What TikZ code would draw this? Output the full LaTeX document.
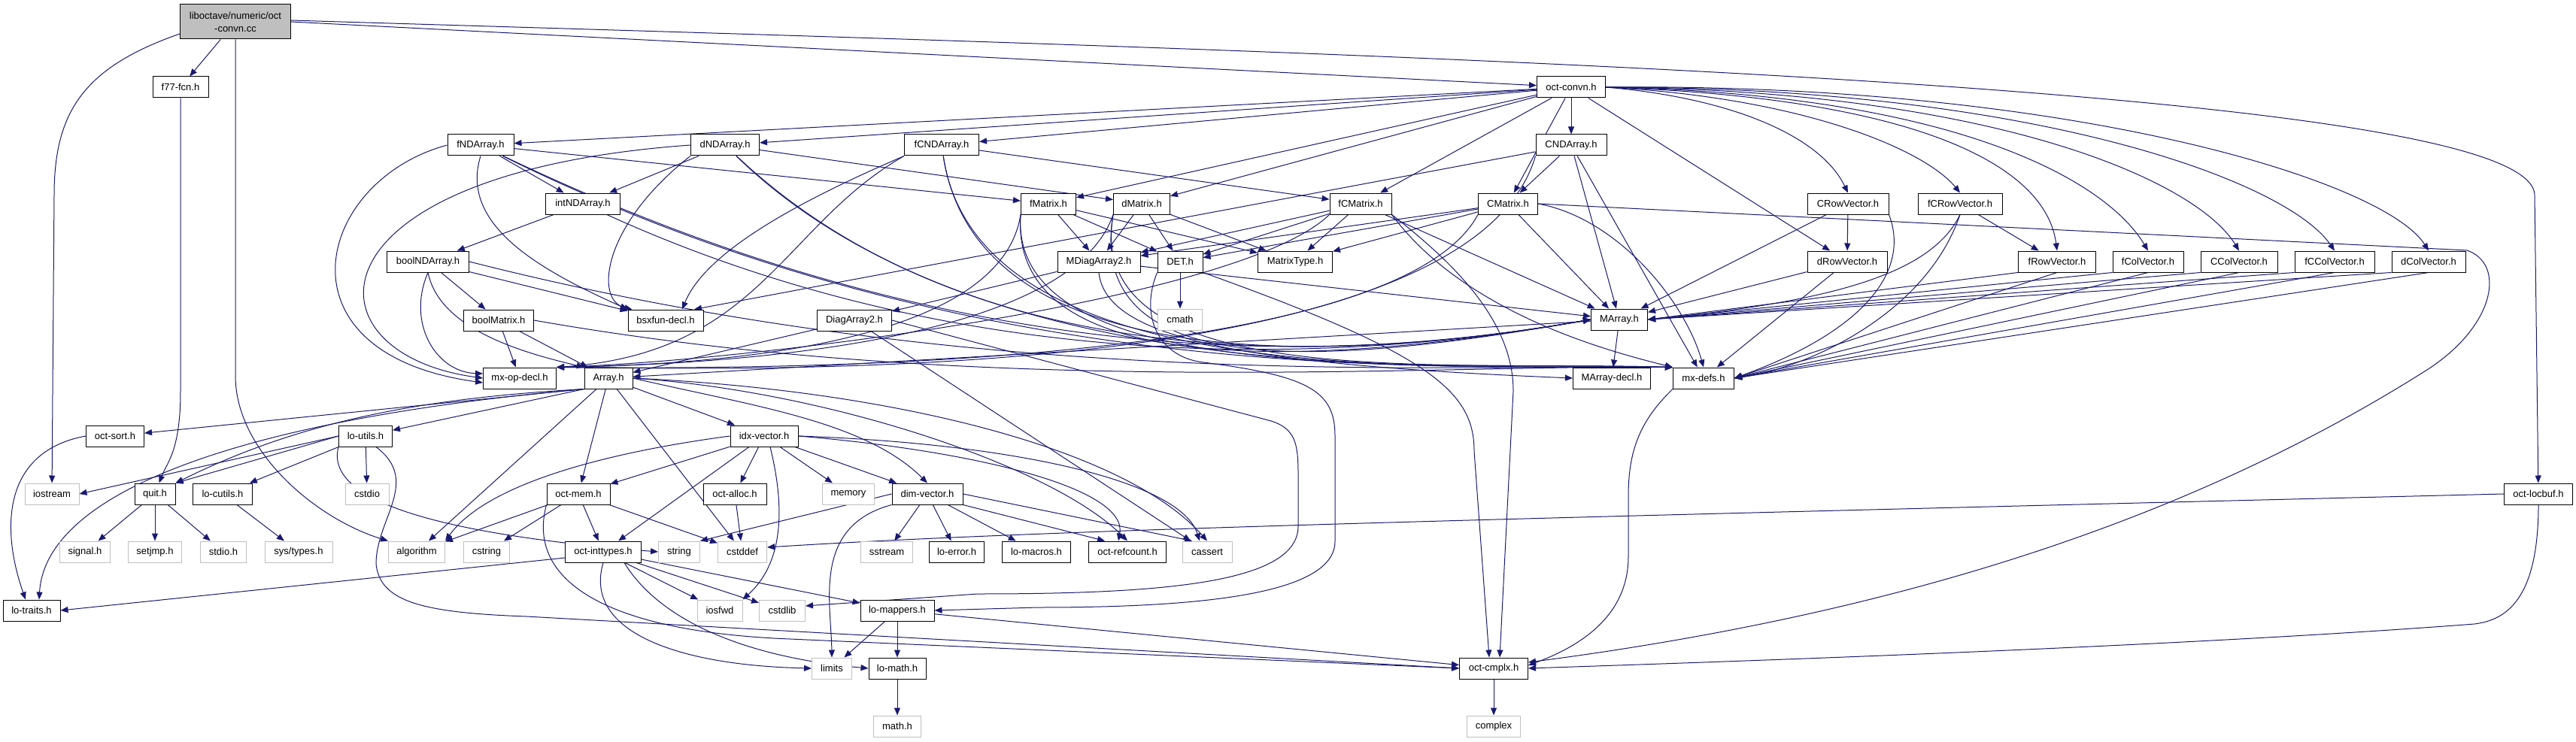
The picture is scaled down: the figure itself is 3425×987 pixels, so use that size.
\documentclass[tikz,border=0pt]{standalone}
\usepackage{fontspec}
\setmainfont{Liberation Sans}
\usetikzlibrary{arrows.meta}
\definecolor{edgec}{HTML}{191970}
\definecolor{sysc}{HTML}{BFBFBF}
\pgfdeclarelayer{bg}
\pgfsetlayers{bg,main}
\tikzset{
  hdr/.style={draw=black, fill=white, line width=1pt, minimum height=28pt, inner xsep=3pt, inner ysep=0pt, font=\fontsize{13pt}{16pt}\selectfont},
  sys/.style={hdr, draw=sysc},
  dep/.style={draw=edgec, line width=1pt, -{Triangle[length=10pt,width=8pt]}},
}
\begin{document}
\begin{tikzpicture}[x=1pt,y=-1pt]
\useasboundingbox (0,0) rectangle (3425,987);
% ---------- nodes ----------
\node[hdr, fill=sysc, minimum width=147pt, minimum height=46pt, align=center, font=\fontsize{13pt}{17pt}\selectfont] (root) at (313,29) {liboctave/numeric/oct\\-convn.cc};
\node[hdr, minimum width=74pt] (f77) at (240,116) {f77-fcn.h};
\node[hdr, minimum width=91pt] (convn) at (2089,116) {oct-convn.h};
\node[hdr, minimum width=88pt] (fND) at (639,193) {fNDArray.h};
\node[hdr, minimum width=91pt] (dND) at (964,193) {dNDArray.h};
\node[hdr, minimum width=99pt] (fCND) at (1252,193) {fCNDArray.h};
\node[hdr, minimum width=94pt] (CND) at (2089,193) {CNDArray.h};
\node[hdr, minimum width=99pt] (intND) at (775,271) {intNDArray.h};
\node[hdr, minimum width=73pt] (fMat) at (1394,271) {fMatrix.h};
\node[hdr, minimum width=75pt] (dMat) at (1518,271) {dMatrix.h};
\node[hdr, minimum width=82pt] (fCMat) at (1809,271) {fCMatrix.h};
\node[hdr, minimum width=79pt] (CMat) at (2005,271) {CMatrix.h};
\node[hdr, minimum width=108pt] (CRV) at (2457,271) {CRowVector.h};
\node[hdr, minimum width=112pt] (fCRV) at (2606,271) {fCRowVector.h};
\node[hdr, minimum width=109pt] (boolND) at (569,348) {boolNDArray.h};
\node[hdr, minimum width=110pt] (MDiag) at (1461,348) {MDiagArray2.h};
\node[hdr, minimum width=60pt] (DET) at (1569,348) {DET.h};
\node[hdr, minimum width=99pt] (MType) at (1722,348) {MatrixType.h};
\node[hdr, minimum width=106pt] (dRV) at (2456,348) {dRowVector.h};
\node[hdr, minimum width=103pt] (fRV) at (2735,348) {fRowVector.h};
\node[hdr, minimum width=94pt] (fCV) at (2856,348) {fColVector.h};
\node[hdr, minimum width=102pt] (CCV) at (2977,348) {CColVector.h};
\node[hdr, minimum width=106pt] (fCCV) at (3104,348) {fCColVector.h};
\node[hdr, minimum width=98pt] (dCV) at (3229,348) {dColVector.h};
\node[hdr, minimum width=93pt] (boolMat) at (663,426) {boolMatrix.h};
\node[hdr, minimum width=100pt] (bsx) at (885,426) {bsxfun-decl.h};
\node[hdr, minimum width=99pt] (Diag) at (1136,426) {DiagArray2.h};
\node[sys, minimum width=59pt] (cmath) at (1569,425) {cmath};
\node[hdr, minimum width=75pt] (MArr) at (2153,425) {MArray.h};
\node[hdr, minimum width=97pt] (mxop) at (691,503) {mx-op-decl.h};
\node[hdr, minimum width=64pt] (Arr) at (809,503) {Array.h};
\node[hdr, minimum width=103pt] (MArrdecl) at (2143,503) {MArray-decl.h};
\node[hdr, minimum width=81pt] (mxdefs) at (2265,503) {mx-defs.h};
\node[hdr, minimum width=77pt] (osort) at (153,580) {oct-sort.h};
\node[hdr, minimum width=71pt] (loutils) at (486,580) {lo-utils.h};
\node[hdr, minimum width=90pt] (idx) at (1016,580) {idx-vector.h};
\node[sys, minimum width=72pt] (iostream) at (69,657) {iostream};
\node[hdr, minimum width=54pt] (quit) at (206,657) {quit.h};
\node[hdr, minimum width=79pt] (locutils) at (296,657) {lo-cutils.h};
\node[sys, minimum width=58pt] (cstdio) at (488,657) {cstdio};
\node[hdr, minimum width=84pt] (omem) at (769,657) {oct-mem.h};
\node[hdr, minimum width=84pt] (oalloc) at (977,657) {oct-alloc.h};
\node[sys, minimum width=69pt] (memory) at (1128,657) {memory};
\node[hdr, minimum width=94pt] (dimv) at (1233,657) {dim-vector.h};
\node[hdr, minimum width=91pt] (locbuf) at (3375,657) {oct-locbuf.h};
\node[sys, minimum width=67pt] (signal) at (113,734) {signal.h};
\node[sys, minimum width=71pt] (setjmp) at (206,734) {setjmp.h};
\node[sys, minimum width=61pt] (stdioh) at (297,734) {stdio.h};
\node[sys, minimum width=90pt] (systypes) at (397,734) {sys/types.h};
\node[sys, minimum width=75pt] (algorithm) at (554,734) {algorithm};
\node[sys, minimum width=61pt] (cstring) at (647,734) {cstring};
\node[hdr, minimum width=101pt] (ointt) at (802,734) {oct-inttypes.h};
\node[sys, minimum width=55pt] (string) at (903,734) {string};
\node[sys, minimum width=65pt] (cstddef) at (987,734) {cstddef};
\node[sys, minimum width=69pt] (sstream) at (1179,734) {sstream};
\node[hdr, minimum width=73pt] (loerror) at (1272,734) {lo-error.h};
\node[hdr, minimum width=91pt] (lomacros) at (1378,734) {lo-macros.h};
\node[hdr, minimum width=103pt] (orefc) at (1499,734) {oct-refcount.h};
\node[sys, minimum width=66pt] (cassert) at (1605,734) {cassert};
\node[hdr, minimum width=76pt] (lotraits) at (42,812) {lo-traits.h};
\node[sys, minimum width=60pt] (iosfwd) at (957,812) {iosfwd};
\node[sys, minimum width=61pt] (cstdlib) at (1040,812) {cstdlib};
\node[hdr, minimum width=98pt] (lomap) at (1193,812) {lo-mappers.h};
\node[sys, minimum width=53pt] (limits) at (1106,889) {limits};
\node[hdr, minimum width=76pt] (lomath) at (1193,889) {lo-math.h};
\node[hdr, minimum width=91pt] (ocmplx) at (1986,889) {oct-cmplx.h};
\node[sys, minimum width=63pt] (mathh) at (1193,966) {math.h};
\node[sys, minimum width=71pt] (complex) at (1986,966) {complex};
% ---------- edges ----------
\begin{pgfonlayer}{bg}
% root
\draw[dep] ([yshift=-16pt]root.west) .. controls (110,90) and (72,150) .. (72,260) -- (iostream);
\draw[dep] (root) -- (f77);
\draw[dep] (root.south) -- (313,500) .. controls (313,600) and (420,690) .. (algorithm.north west);
\draw[dep] (root.east) -- (convn);
\draw[dep] ([yshift=2pt]root.east) .. controls (1800,70) and (3370,110) .. (3370,260) -- (locbuf);
\draw[dep] (f77) -- (240,520) .. controls (240,600) and (222,615) .. (quit);
% oct-convn.h
\foreach \t in {fND,dND,fCND,CND,fMat,dMat,fCMat,CMat,dRV} \draw[dep] (convn) -- (\t);
\draw[dep] (convn.east) .. controls (2300,130) and (2420,180) .. (CRV.north);
\draw[dep] (convn.east) .. controls (2400,130) and (2560,200) .. (fCRV.north);
\draw[dep] (convn.east) .. controls (2550,130) and (2720,220) .. (fRV.north);
\draw[dep] (convn.east) .. controls (2600,125) and (2800,240) .. (fCV.north);
\draw[dep] (convn.east) .. controls (2650,120) and (2920,240) .. (CCV.north);
\draw[dep] (convn.east) .. controls (2700,115) and (3040,240) .. (fCCV.north);
\draw[dep] (convn.east) .. controls (2750,110) and (3170,240) .. (dCV.north);
% ND arrays
\draw[dep] (fND) -- (intND);
\draw[dep] (fND) -- (fMat);
\draw[dep] (fND.west) .. controls (420,240) and (360,470) .. ([yshift=-6pt]mxop.west);
\draw[dep] (fND.south) .. controls (610,300) and (720,360) .. (bsx.north west);
\draw[dep] (fND) .. controls (1300,510) and (1800,480) .. (MArr.west);
\draw[dep] (fND) .. controls (1300,520) and (1900,485) .. (mxdefs.north west);
\draw[dep] (dND) -- (intND);
\draw[dep] (dND) -- (dMat);
\draw[dep] (dND.west) .. controls (400,230) and (400,470) .. (mxop.west);
\draw[dep] (dND.south west) .. controls (800,300) and (790,400) .. ([xshift=6pt]bsx.north west);
\draw[dep] (dND) .. controls (1300,510) and (1800,480) .. (MArr.west);
\draw[dep] (dND) .. controls (1300,520) and (1900,485) .. (mxdefs.north west);
\draw[dep] (fCND) -- (fCMat);
\draw[dep] (fCND.south west) .. controls (1080,260) and (940,330) .. ([xshift=22pt]bsx.north);
\draw[dep] (fCND.south west) .. controls (1040,300) and (1010,470) .. (mxop.north east);
\draw[dep] (fCND) .. controls (1300,510) and (1800,480) .. (MArr.west);
\draw[dep] (fCND) .. controls (1300,520) and (1900,485) .. (mxdefs.north west);
\draw[dep] (CND) -- (CMat);
\draw[dep] (CND) -- ([xshift=38pt]bsx.north);
\draw[dep] (CND.south west) .. controls (1950,520) and (950,490) .. (mxop.north east);
\draw[dep] (CND) -- (MArr);
\draw[dep] (CND) -- (mxdefs);
\draw[dep] (intND) -- (boolND);
\draw[dep] (intND) .. controls (1300,510) and (1800,480) .. (MArr.west);
\draw[dep] (boolND) -- (boolMat);
\draw[dep] (boolND.south) .. controls (585,440) and (700,470) .. (Arr.north west);
\draw[dep] (boolND.south) .. controls (540,430) and (580,495) .. ([yshift=6pt]mxop.west);
\draw[dep] (boolND) -- (bsx);
\draw[dep] (boolND.east) .. controls (1300,520) and (1900,485) .. (mxdefs.north west);
\draw[dep] (boolMat) -- (Arr);
\draw[dep] (boolMat) -- (mxop);
\draw[dep] (boolMat.east) .. controls (1300,530) and (1900,485) .. (mxdefs.north west);
% matrices
\foreach \m in {fMat,dMat,fCMat,CMat} {
  \draw[dep] (\m) -- (MDiag);
  \draw[dep] (\m) -- (DET);
  \draw[dep] (\m) -- (MType);
}
\draw[dep] (fMat.south west) .. controls (1330,460) and (950,485) .. (mxop.north east);
\draw[dep] (dMat.south west) .. controls (1420,460) and (950,485) .. (mxop.north east);
\draw[dep] (fCMat.south west) .. controls (1650,400) and (1000,480) .. (mxop.north east);
\draw[dep] (CMat.south west) .. controls (1850,500) and (950,490) .. (mxop.north east);
\draw[dep] (fMat.south west) .. controls (1340,520) and (1800,480) .. (MArr.west);
\draw[dep] (dMat.south west) .. controls (1440,520) and (1800,480) .. (MArr.west);
\draw[dep] (fMat.south west) .. controls (1340,520) and (1900,480) .. (mxdefs.north west);
\draw[dep] (dMat.south west) .. controls (1440,520) and (1900,480) .. (mxdefs.north west);
\draw[dep] (fCMat) -- (MArr);
\draw[dep] (CMat) -- (MArr);
\draw[dep] (fCMat.south east) .. controls (1950,420) and (2150,470) .. (mxdefs.north west);
\draw[dep] (CMat.east) .. controls (2150,290) and (2240,400) .. (mxdefs.north);
\draw[dep] (fCMat.south east) .. controls (1920,340) and (2012,420) .. (2012,520) -- ([xshift=8pt]ocmplx.north);
\draw[dep] (CMat.east) -- (3280,333) .. controls (3330,350) and (3320,430) .. (3230,490) .. controls (2900,700) and (2500,820) .. ([yshift=8pt]ocmplx.east);
% MDiagArray2, DiagArray2, DET
\draw[dep] (MDiag) -- (Diag);
\draw[dep] (MDiag) -- (MArr);
\draw[dep] (MDiag.south) .. controls (1470,450) and (1650,485) .. (MArrdecl.west);
\draw[dep] (Diag) -- (Arr);
\draw[dep] (Diag) -- (cassert);
\draw[dep] (Diag.east) -- (1690,560) .. controls (1722,570) and (1726,590) .. (1726,630) -- (1726,700) .. controls (1726,775) and (1550,790) .. (1300,790) -- ([yshift=6pt]cstdlib.east);
\draw[dep] (DET) -- (cmath);
\draw[dep] (DET.south west) .. controls (1515,420) and (1540,475) .. (1600,482) .. controls (1740,500) and (1775,520) .. (1775,580) -- (1775,720) .. controls (1775,790) and (1600,808) .. (1380,808) -- (lomap.east);
\draw[dep] (DET.south east) .. controls (1900,470) and (1960,520) .. (1960,600) -- ([xshift=-6pt]ocmplx.north);
% vectors
\draw[dep] (CRV) -- (dRV);
\draw[dep] (CRV) -- (MArr);
\draw[dep] (CRV.south east) .. controls (2540,360) and (2480,440) .. (mxdefs.east);
\draw[dep] (fCRV) -- (fRV);
\draw[dep] (fCRV.south) .. controls (2570,360) and (2450,400) .. (MArr.east);
\draw[dep] (fCRV.south) .. controls (2560,420) and (2400,490) .. (mxdefs.east);
\draw[dep] (dRV) -- (MArr);
\draw[dep] (dRV) -- (mxdefs);
\draw[dep] (fRV.south west) -- (MArr.east);
\draw[dep] (fRV.south) -- (mxdefs.east);
\foreach \v in {fCV,CCV,fCCV,dCV} {
  \draw[dep] (\v.south west) -- (MArr.east);
  \draw[dep] (\v.south) -- (mxdefs.east);
}
% MArray, mx-defs, oct-locbuf
\draw[dep] (MArr) -- (MArrdecl);
\draw[dep] (MArr) -- (Arr);
\draw[dep] (mxdefs.south west) .. controls (2180,560) and (2165,600) .. (2165,660) -- (2165,740) .. controls (2165,820) and (2100,860) .. ([yshift=4pt]ocmplx.east);
\draw[dep] (locbuf.west) .. controls (2000,690) and (1400,704) .. ([yshift=6pt]cstddef.east);
\draw[dep] (locbuf.south) .. controls (3375,800) and (3330,825) .. (3290,830) .. controls (2900,860) and (2300,880) .. (ocmplx.east);
% Array.h
\draw[dep] (Arr.south west) -- (osort);
\draw[dep] (Arr.south west) -- (loutils);
\draw[dep] (Arr.south west) .. controls (560,530) and (400,560) .. (quit.north east);
\draw[dep] (Arr.south west) .. controls (300,560) and (60,660) .. ([xshift=10pt]lotraits.north);
\draw[dep] (Arr) -- (algorithm);
\draw[dep] (Arr) -- (omem);
\draw[dep] (Arr) -- (cstddef);
\draw[dep] (Arr) -- (idx);
\draw[dep] (Arr.east) .. controls (1000,540) and (1150,560) .. (dimv.north);
\draw[dep] (Arr.east) .. controls (1100,520) and (1400,620) .. (orefc.north);
\draw[dep] (Arr.east) .. controls (1200,520) and (1500,600) .. (cassert.north);
% idx-vector.h
\draw[dep] (idx) -- (omem);
\draw[dep] (idx) -- (oalloc);
\draw[dep] (idx) -- (memory);
\draw[dep] (idx) -- (dimv);
\draw[dep] (idx) -- (ointt);
\draw[dep] (idx.west) .. controls (820,600) and (650,640) .. (algorithm.north east);
\draw[dep] ([xshift=8pt]idx.south) .. controls (1045,680) and (1040,750) .. (iosfwd.north east);
\draw[dep] (idx.east) .. controls (1300,600) and (1500,650) .. ([xshift=-12pt]orefc.north);
\draw[dep] (idx.east) .. controls (1350,590) and (1570,640) .. ([xshift=-10pt]cassert.north);
% dim-vector.h
\draw[dep] (dimv.west) -- (string.north east);
\draw[dep] (dimv.south west) .. controls (1080,700) and (1105,800) .. (limits.north);
\draw[dep] (dimv) -- (sstream);
\draw[dep] (dimv) -- (loerror);
\draw[dep] (dimv) -- (lomacros);
\draw[dep] (dimv.south east) -- ([xshift=-30pt]orefc.north);
\draw[dep] (dimv.east) -- ([xshift=-20pt]cassert.north);
% oct-mem.h, oct-alloc.h
\draw[dep] (omem) -- (cstring);
\draw[dep] (omem) -- (algorithm);
\draw[dep] (omem) -- (ointt);
\draw[dep] (omem) -- (cstddef);
\draw[dep] (omem.south west) .. controls (700,770) and (800,840) .. (1050,850) -- (ocmplx.west);
\draw[dep] (oalloc) -- (cstddef);
% oct-inttypes.h
\draw[dep] ([yshift=-8pt]ointt.west) -- (lotraits.east);
\draw[dep] (ointt.south) .. controls (775,840) and (900,885) .. (limits.west);
\draw[dep] ([xshift=28pt]ointt.south) .. controls (880,830) and (1000,875) .. (lomath.west);
\draw[dep] (ointt) -- (iosfwd);
\draw[dep] (ointt) -- (cstdlib);
\draw[dep] (ointt) -- (lomap);
% lo-mappers etc.
\draw[dep] (lomap) -- (limits);
\draw[dep] (lomap) -- (lomath);
\draw[dep] (lomap) -- (ocmplx);
\draw[dep] (lomath) -- (mathh);
\draw[dep] (ocmplx) -- (complex);
% lo-utils.h
\draw[dep] (loutils.west) -- (iostream.east);
\draw[dep] (loutils.west) -- (quit.north east);
\draw[dep] (loutils) -- (locutils);
\draw[dep] (loutils) -- (cstdio);
\draw[dep] (loutils.south west) .. controls (430,670) and (600,712) .. (string.west);
\draw[dep] ([xshift=14pt]loutils.south) .. controls (560,640) and (500,690) .. (500,750) .. controls (505,800) and (560,815) .. (700,820) -- (ocmplx.west);
% quit, lo-cutils, oct-sort
\draw[dep] (quit) -- (signal);
\draw[dep] (quit) -- (setjmp);
\draw[dep] (quit) -- (stdioh);
\draw[dep] (locutils) -- (systypes);
\draw[dep] (osort.west) .. controls (5,600) and (0,700) .. ([xshift=-8pt]lotraits.north);
\end{pgfonlayer}
\end{tikzpicture}
\end{document}
